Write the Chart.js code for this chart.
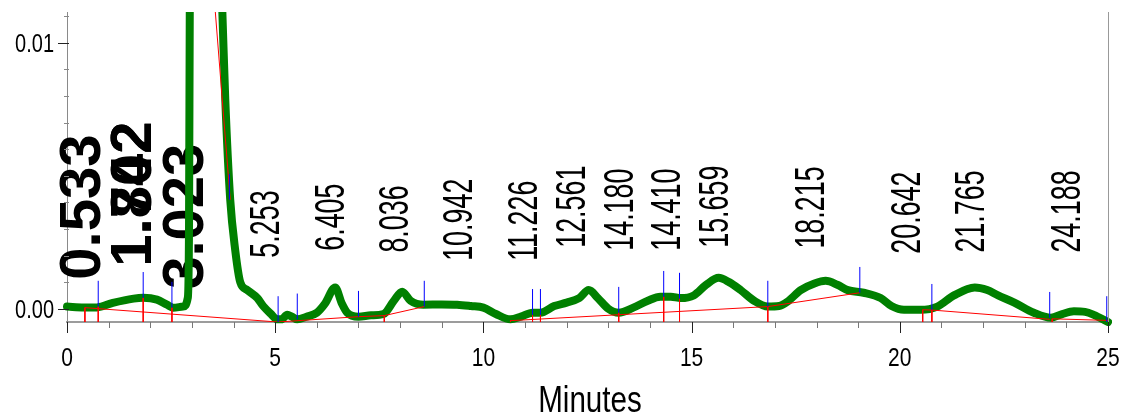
<!DOCTYPE html>
<html>
<head>
<meta charset="utf-8">
<title>Chromatogram</title>
<script src="https://cdn.jsdelivr.net/npm/chart.js@4.4.1/dist/chart.umd.min.js"></script>
<style>
  html, body { margin: 0; padding: 0; background: #fff; }
  #wrap { position: relative; width: 1136px; height: 419px; }
</style>
</head>
<body>
<div id="wrap"><canvas id="chrom" width="1136" height="419"></canvas></div>
<script>
// detector trace: time (min) and signal (AU)
const minutes = [
  0.00, 0.40, 0.72, 1.10, 1.60, 1.83, 2.16, 2.40, 2.55, 2.79,
  2.90, 2.93, 2.95, 3.05, 3.30, 3.55, 3.70, 3.73, 3.80, 3.92,
  4.04, 4.16, 4.33, 4.57, 4.71, 4.90, 5.05, 5.15, 5.29, 5.40,
  5.53, 5.75, 6.00, 6.20, 6.44, 6.60, 6.73, 7.00, 7.30, 7.60,
  7.85, 8.05, 8.25, 8.56, 9.00, 9.37, 9.70, 10.00, 10.30, 10.65,
  10.90, 11.18, 11.37, 11.70, 12.00, 12.30, 12.53, 12.75, 13.00, 13.25,
  13.60, 13.95, 14.25, 14.50, 14.74, 15.05, 15.35, 15.65, 15.90, 16.18,
  16.50, 16.83, 17.10, 17.30, 17.62, 17.95, 18.22, 18.50, 18.75, 19.13,
  19.54, 19.80, 20.10, 20.50, 20.90, 21.30, 21.80, 22.10, 22.36, 22.75,
  23.22, 23.63, 23.90, 24.18, 24.45, 24.66, 25.00
];
const signal = [
  0.00008, 0.00005, 0.00005, 0.00022, 0.00038, 0.00041, 0.00034, 0.00015, 0.00004, 0.00008,
  0.0004, 0.003, 0.012, 0.03, 0.05, 0.03, 0.0125, 0.0112, 0.0079, 0.0041,
  0.0022, 0.0010, 0.0007, 0.0004, 0.0001, -0.0002, -0.0004, -0.0004, -0.00023, -0.0003,
  -0.0004, -0.0003, -0.00015, 0.0002, 0.0008, 0.0002, -0.00015, -0.0003, -0.00025, -0.0002,
  0.0003, 0.00064, 0.0003, 0.00015, 0.00016, 0.00015, 0.0001, 0.00004, -0.0002, -0.0004,
  -0.0003, -0.00015, -0.00015, 0.0001, 0.00023, 0.0004, 0.0007, 0.0004, 0.0, -0.00015,
  0.00004, 0.0003, 0.00045, 0.00045, 0.0004, 0.0005, 0.0009, 0.00116, 0.001, 0.0007,
  0.0003, 0.00008, 0.0001, 0.00026, 0.0007, 0.00095, 0.00105, 0.0009, 0.0007, 0.0006,
  0.0004, 0.0001, -0.00004, -0.00004, 0.00008, 0.0005, 0.0008, 0.0007, 0.0005, 0.00023,
  -0.00015, -0.00034, -0.0002, -0.0001, -0.00012, -0.00023, -0.0005
];

// integration baselines (null breaks a segment)
const baseTimes  = [0.43, 5.06, 7.00, 7.62, 8.58, null, 10.65, 16.83, 19.04, null, 20.55, 20.77, 23.60, null, 23.66, 25.00, null, 3.56, 3.92];
const baseLevels = [0.00004, -0.0005, -0.0003, -0.00026, 0.00008, null, -0.00045, 0.00008, 0.0006, null, -0.00004, -0.00005, -0.0004, null, -0.00038, -0.00044, null, 0.0112, 0.0041];

// peak start/end events
const eventTimes  = [0.75, 1.83, 2.52, 3.90, 5.07, 5.53, 7.00, 8.58, 11.18, 11.37, 13.25, 14.33, 14.71, 16.83, 19.04, 20.77, 23.60, 24.97];
const eventLevels = [0.00008, 0.00041, 0.00004, 0.0041, -0.0005, -0.0004, -0.0003, 0.00008, -0.00023, -0.00023, -0.00015, 0.00045, 0.00038, 0.00008, 0.0006, -0.00004, -0.00034, -0.0005];

// drop lines down to the time axis
const dropTimes  = [0.43, 0.75, 1.83, 2.52, 7.62, 10.65, 11.18, 11.37, 13.25, 14.33, 14.71, 16.83, 20.55, 20.77, 23.66];
const dropLevels = [0.00004, 0.00008, 0.00041, 0.00004, -0.00026, -0.00045, -0.00023, -0.00023, -0.00015, 0.00045, 0.00038, 0.00008, -0.00004, -0.00004, -0.00038];

// retention time labels
const peakLabels = ['0.533', '1.742', '1.802', '3.023', '5.253', '6.405', '8.036', '10.942', '11.226', '12.561',
                    '14.180', '14.410', '15.659', '18.215', '20.642', '21.765', '24.188'];

// axis ticks
const xTicks = [0, 5, 10, 15, 20, 25];
const yTicks = [0, 0.01];

// label layout: centre (min) and foot (AU) of each rotated label
const labelSlots = [0.39, 1.61, 1.61, 2.86, 4.81, 6.37, 7.91, 9.45, 11.0, 12.16,
                    13.32, 14.45, 15.6, 17.9, 20.2, 21.75, 24.04];
const labelFoot  = [0.00109, 0.00158, 0.00158, 0.00075, 0.00192, 0.00218, 0.00211, 0.0018, 0.0018, 0.00229,
                    0.00218, 0.00218, 0.00229, 0.00226, 0.00207, 0.00211, 0.00211];
const BOLD_BEFORE = 4;      // minutes; early labels are drawn big and bold
const EVENT_TICK = 0.00097; // height of the blue event marks
const Y_MIN = -0.0005, Y_MAX = 0.01116;

const FONT = "'Liberation Sans', Arial, sans-serif";

const pts = (ts, vs) => ts.map((t, i) => ({ x: t === null ? NaN : t, y: vs[i] }));
const verticals = (ts, from, to) => {
  const out = [];
  ts.forEach((t, i) => {
    out.push({ x: t, y: from[i] }, { x: t, y: to(i) }, { x: t, y: null });
  });
  return out;
};

// narrow text: squeeze along the writing direction
function narrowText(ctx, txt, x, y, size, squeeze, align, rot) {
  ctx.save();
  ctx.translate(x, y);
  if (rot) ctx.rotate(rot);
  ctx.scale(squeeze, 1);
  ctx.font = size + 'px ' + FONT;
  ctx.textAlign = align;
  ctx.fillText(txt, 0, 0);
  ctx.restore();
}

const decor = {
  id: 'decor',
  beforeDatasetsDraw(chart) {
    const { ctx, scales: { x, y } } = chart;
    ctx.save();
    ctx.fillStyle = '#000';
    ctx.textBaseline = 'middle';
    peakLabels.forEach((txt, i) => {
      const px = x.getPixelForValue(labelSlots[i]);
      const py = y.getPixelForValue(labelFoot[i]);
      if (parseFloat(txt) < BOLD_BEFORE) {
        ctx.save();
        ctx.translate(px, py);
        ctx.rotate(-Math.PI / 2);
        ctx.font = 'bold 58px ' + FONT;
        ctx.textAlign = 'left';
        ctx.fillText(txt, 0, 1);
        ctx.restore();
      } else {
        narrowText(ctx, txt, px, py, 42, 0.64, 'left', -Math.PI / 2);
      }
    });
    ctx.restore();
  },
  afterDraw(chart) {
    const { ctx, chartArea: a, scales: { x, y } } = chart;
    ctx.save();
    ctx.lineWidth = 1;
    // time axis ticks, one per minute
    for (let m = 0; m <= 25; m++) {
      const px = Math.round(x.getPixelForValue(m)) + 0.5;
      const major = m % 5 === 0;
      ctx.strokeStyle = major ? '#222' : '#777';
      ctx.beginPath();
      ctx.moveTo(px, a.bottom);
      ctx.lineTo(px, a.bottom + (major ? 11 : 6));
      ctx.stroke();
    }
    // signal axis ticks every 0.001 AU
    for (let k = 0; k <= 11; k++) {
      const py = Math.round(y.getPixelForValue(k / 1000)) + 0.5;
      const major = k % 10 === 0;
      ctx.strokeStyle = major ? '#222' : '#888';
      ctx.beginPath();
      ctx.moveTo(a.left - (major ? 9 : 3), py);
      ctx.lineTo(a.left + 2, py);
      ctx.stroke();
    }
    // right frame edge
    ctx.strokeStyle = '#999';
    ctx.beginPath();
    ctx.moveTo(Math.round(a.right) + 0.5, a.top);
    ctx.lineTo(Math.round(a.right) + 0.5, a.bottom);
    ctx.stroke();

    // tick labels
    ctx.fillStyle = '#000';
    ctx.textBaseline = 'alphabetic';
    x.ticks.forEach(t => {
      narrowText(ctx, String(t.value), x.getPixelForValue(t.value), a.bottom + 44, 25, 0.84, 'center');
    });
    y.ticks.forEach(t => {
      narrowText(ctx, t.value.toFixed(2), a.left - 13, y.getPixelForValue(t.value) + 9, 25, 0.8, 'right');
    });
    // axis title
    narrowText(ctx, 'Minutes', 590, 412, 37, 0.8, 'center');
    ctx.restore();
  }
};

const noPad = s => { s.paddingLeft = 0; s.paddingRight = 0; s.paddingTop = 0; s.paddingBottom = 0; };

new Chart(document.getElementById('chrom'), {
  type: 'line',
  data: {
    datasets: [
      {
        label: 'trace',
        data: pts(minutes, signal),
        borderColor: '#008000',
        borderWidth: 8,
        borderCapStyle: 'round',
        borderJoinStyle: 'round',
        cubicInterpolationMode: 'monotone',
        pointRadius: 0,
        clip: { left: 4, right: 4, top: 0, bottom: 4 },
        order: 2
      },
      {
        label: 'baseline',
        data: pts(baseTimes, baseLevels),
        borderColor: '#ff0000',
        borderWidth: 1,
        pointRadius: 0,
        spanGaps: false,
        clip: 0,
        order: 1
      },
      {
        label: 'drops',
        data: verticals(dropTimes, dropLevels, () => Y_MIN),
        borderColor: '#ff0000',
        borderWidth: 1,
        pointRadius: 0,
        spanGaps: false,
        order: 1
      },
      {
        label: 'events',
        data: verticals(eventTimes, eventLevels, i => eventLevels[i] + EVENT_TICK),
        borderColor: '#0000ff',
        borderWidth: 1,
        pointRadius: 0,
        spanGaps: false,
        order: 0
      }
    ]
  },
  options: {
    responsive: false,
    animation: false,
    events: [],
    layout: { padding: { top: 12, right: 28, left: 0, bottom: 0 } },
    plugins: { legend: { display: false }, tooltip: { enabled: false } },
    scales: {
      x: {
        type: 'linear',
        min: 0,
        max: 25,
        afterFit: s => { s.height = 97; noPad(s); },
        afterBuildTicks: s => { s.ticks = xTicks.map(v => ({ value: v })); },
        grid: { display: false },
        border: { display: true, color: '#9c9c9c', width: 2 },
        ticks: { display: false }
      },
      y: {
        min: Y_MIN,
        max: Y_MAX,
        afterFit: s => { s.width = 67; noPad(s); },
        afterBuildTicks: s => { s.ticks = yTicks.map(v => ({ value: v })); },
        grid: { display: false },
        border: { display: true, color: '#8a8a8a', width: 1 },
        ticks: { display: false }
      }
    }
  },
  plugins: [decor]
});
</script>
</body>
</html>
